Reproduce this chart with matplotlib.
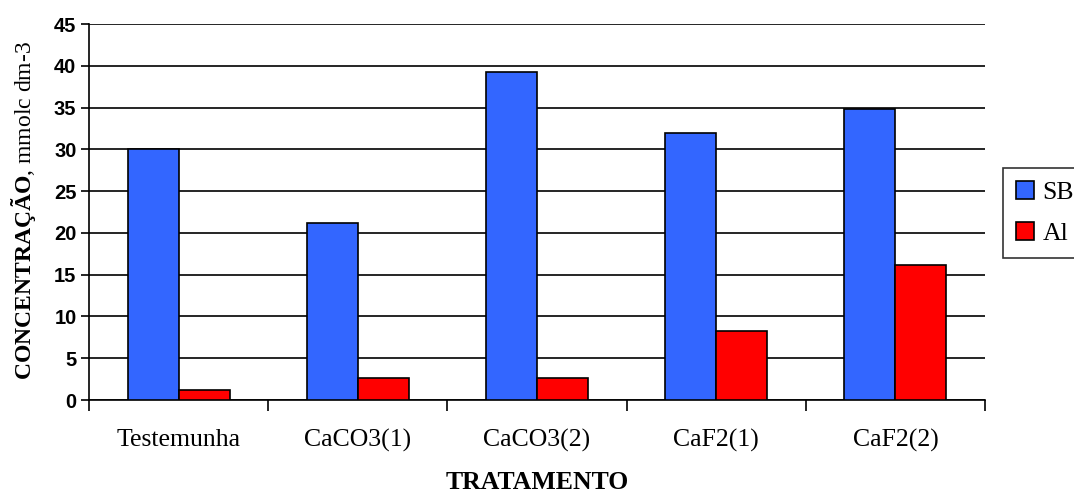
import numpy as np
import matplotlib
matplotlib.use("Agg")
import matplotlib.pyplot as plt

# === Données ===
categories = ["Testemunha", "CaCO3(1)", "CaCO3(2)", "CaF2(1)", "CaF2(2)"]
sb = [30.0, 21.2, 39.2, 31.9, 34.8]
al = [1.2, 2.6, 2.6, 8.3, 16.2]

plt.rcParams['mathtext.fontset'] = 'custom'
plt.rcParams['mathtext.rm'] = 'Liberation Serif'
plt.rcParams['mathtext.bf'] = 'Liberation Serif:bold'

# === Figure ===
W, H = 1074, 495
fig = plt.figure(figsize=(W / 100, H / 100), dpi=100)
ax = fig.add_axes([89 / W, 1 - 400 / H, 896 / W, 376 / H])

x = np.arange(len(categories))
w = 0.285
ax.bar(x - w / 2, sb, w, color="#3366FF", edgecolor="black", linewidth=1.2,
       label="SB", zorder=3)
ax.bar(x + w / 2, al, w, color="#FF0000", edgecolor="black", linewidth=1.2,
       label="Al", zorder=3)

ax.set_xlim(-0.5, len(categories) - 0.5)
ax.set_ylim(0, 45)
ax.set_yticks(np.arange(0, 46, 5))
ax.yaxis.grid(True, color="black", linewidth=1.2, zorder=0)
ax.set_axisbelow(True)

ax.set_xticks(x)
ax.set_xticklabels(categories, fontfamily="Liberation Serif", fontsize=18.5)
ax.tick_params(axis="x", length=0, pad=21)
ax.set_xticks(np.arange(-0.5, len(categories), 1), minor=True)
ax.tick_params(axis="x", which="minor", length=8, width=1.2, direction="out")
ax.tick_params(axis="y", length=6, width=1.2, direction="out", pad=3)
for lbl in ax.get_yticklabels():
    lbl.set_fontfamily("Liberation Sans")
    lbl.set_fontweight("bold")
    lbl.set_fontsize(14.5)

for s in ["top", "right"]:
    ax.spines[s].set_visible(False)
for s in ["left", "bottom"]:
    ax.spines[s].set_linewidth(1.2)

# titres des axes
fig.text(537 / W, 6 / H, "TRATAMENTO", fontfamily="Liberation Serif",
         fontweight="bold", fontsize=18.5, ha="center", va="baseline")
fig.text(24 / W, 1 - 211 / H, r"$\mathbf{CONCENTRAÇÃO}$, mmolc dm-3",
         fontfamily="Liberation Serif", fontsize=17, rotation=90,
         ha="center", va="center")

leg = ax.legend(loc="upper left", bbox_to_anchor=(1.02, 0.617),
                prop={"family": "Liberation Serif", "size": 18.5},
                frameon=True, fancybox=False, edgecolor="black",
                handlelength=0.7, handleheight=0.7, handletextpad=0.35,
                borderpad=0.5, labelspacing=0.7, borderaxespad=0)
leg.get_frame().set_linewidth(1.2)

fig.savefig("out.png", dpi=100)
